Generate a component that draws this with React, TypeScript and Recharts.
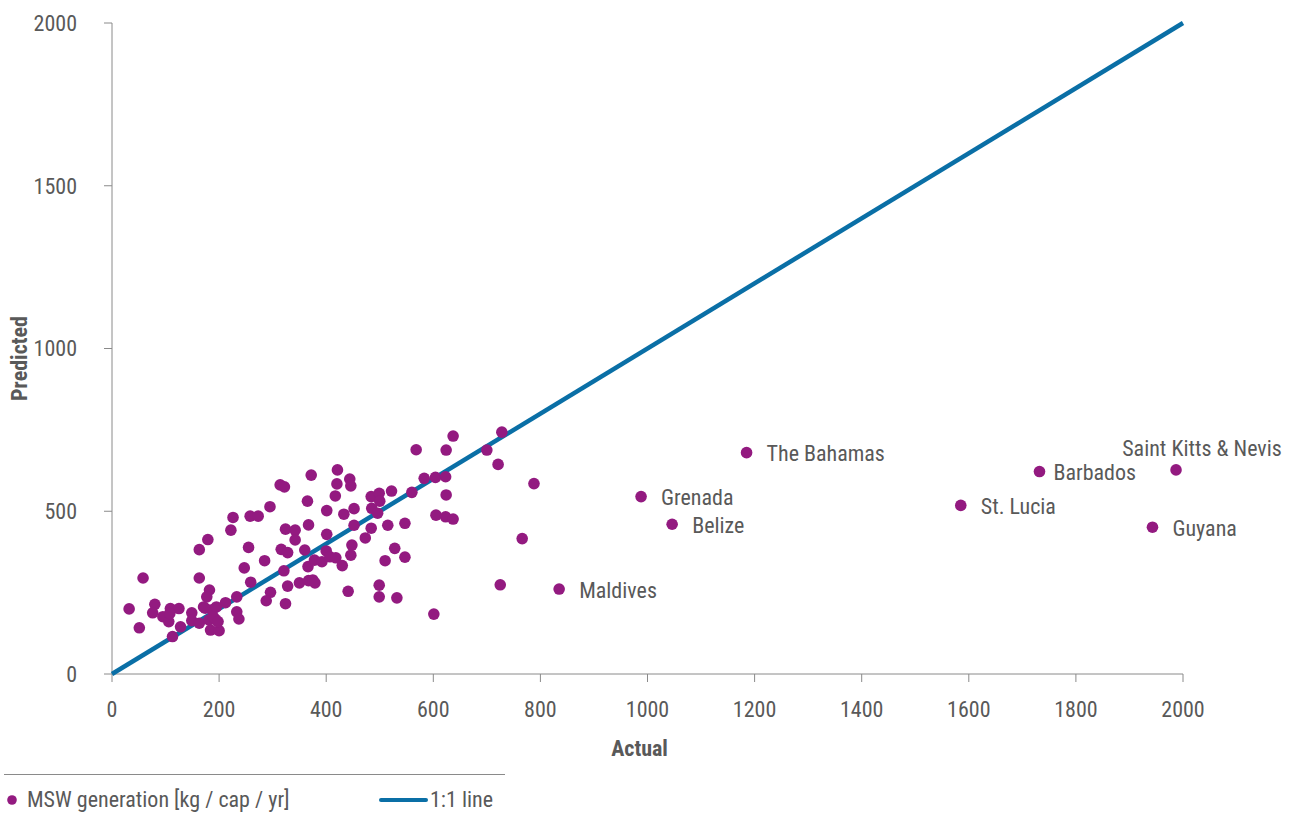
import React from 'react';
import { ScatterChart, Scatter, XAxis, YAxis, LabelList } from 'recharts';

// unlabelled countries: actual vs predicted MSW generation
const ACTUAL = [
  58, 32, 51, 80, 76, 95, 109, 125, 106, 128, 113, 149, 149, 163, 163, 163, 179, 182, 177, 174,
  187, 181, 193, 184, 200, 212, 233, 233, 237, 222, 226, 255, 258, 273, 247, 259, 285, 295, 296, 288,
  314, 322, 324, 342, 342, 316, 328, 360, 321, 328, 324, 350, 367, 365, 372, 367, 366, 171, 195, 189,
  198, 108, 421, 420, 444, 446, 417, 401, 433, 452, 452, 401, 400, 378, 392, 407, 418, 430, 448, 446,
  473, 484, 484, 499, 500, 485, 496, 515, 522, 547, 528, 510, 547, 499, 499, 532, 441, 601, 560, 568,
  583, 604, 623, 624, 637, 624, 605, 623, 637, 700, 721, 725, 375, 379, 728, 788, 766,
];
const PREDICTED = [
  295, 200, 142, 214, 188, 176, 201, 201, 161, 145, 115, 188, 164, 156, 295, 382, 413, 258, 237, 202,
  197, 166, 168, 135, 133, 219, 237, 191, 169, 442, 481, 389, 485, 485, 326, 282, 348, 514, 251, 225,
  581, 575, 445, 442, 412, 383, 373, 381, 317, 270, 216, 280, 287, 531, 611, 458, 330, 206, 206, 176,
  161, 186, 627, 584, 599, 578, 547, 502, 491, 508, 457, 429, 378, 350, 345, 360, 357, 333, 396, 365,
  418, 448, 545, 555, 531, 509, 494, 457, 562, 463, 386, 348, 359, 273, 237, 234, 254, 184, 558, 689,
  601, 604, 606, 688, 731, 550, 488, 483, 476, 688, 644, 274, 289, 280, 743, 585, 416,
];

// labelled outliers
const NAMES = ['Maldives', 'Grenada', 'Belize', 'The Bahamas', 'St. Lucia', 'Barbados', 'Saint Kitts & Nevis', 'Guyana'];
const NAMED_ACTUAL = [835, 988, 1046, 1185, 1585, 1732, 1987, 1943];
const NAMED_PREDICTED = [261, 545, 460, 680, 518, 622, 627, 451];

const X_TICKS = [0, 200, 400, 600, 800, 1000, 1200, 1400, 1600, 1800, 2000];
const Y_TICKS = [0, 500, 1000, 1500, 2000];
const ONE_TO_ONE = [0, 2000];

const PURPLE = '#931a80';
const BLUE = '#0a6fa6';
const AXIS = '#8a8a8a';
const TEXT = '#595959';
const FONT = "'Roboto Condensed', Roboto, sans-serif";
const FS = 22;

const points = [
  ...ACTUAL.map((x, i) => ({ x, y: PREDICTED[i], name: '' })),
  ...NAMES.map((name, i) => ({ x: NAMED_ACTUAL[i], y: NAMED_PREDICTED[i], name })),
];
const lineData = ONE_TO_ONE.map((v) => ({ x: v, y: v }));

const PointLabel = (props: any) => {
  const { x, y, width, height, value } = props;
  if (!value) return null;
  const cx = x + width / 2;
  const cy = y + height / 2;
  if (value === 'Saint Kitts & Nevis') {
    return (
      <text x={cx + 26} y={cy - 21} textAnchor="middle" dominantBaseline="central"
        fontSize={FS} fill={TEXT} style={{ fontFamily: FONT, fontStretch: 'condensed' }}>
        {value}
      </text>
    );
  }
  const dx = value === 'Barbados' ? 14 : 20;
  return (
    <text x={cx + dx} y={cy + 1} dominantBaseline="central"
      fontSize={FS} fill={TEXT} style={{ fontFamily: FONT, fontStretch: 'condensed' }}>
      {value}
    </text>
  );
};

const tickStyle = { fontSize: FS, fill: TEXT, fontFamily: FONT, fontStretch: 'condensed' } as any;

export default function App() {
  return (
    <div style={{ position: 'absolute', left: 0, top: 0, width: 1295, height: 813, background: '#fff', fontFamily: FONT, fontStretch: 'condensed' }}>
      <ScatterChart width={1295} height={760} margin={{ top: 23, right: 112, bottom: 0, left: 0 }}>
        <XAxis
          type="number"
          dataKey="x"
          domain={[0, 2000]}
          ticks={X_TICKS}
          height={86}
          stroke={AXIS}
          tickSize={8}
          tickMargin={19}
          tick={tickStyle}
          label={(p: any) => {
            const vb = p.viewBox;
            return (
              <text x={vb.x + vb.width / 2 - 8} y={vb.y + 74} textAnchor="middle" dominantBaseline="central"
                fontSize={FS} fontWeight="bold" fill={TEXT} style={{ fontFamily: FONT, fontStretch: 'condensed' }}>
                Actual
              </text>
            );
          }}
        />
        <YAxis
          type="number"
          dataKey="y"
          domain={[0, 2000]}
          ticks={Y_TICKS}
          width={112}
          stroke={AXIS}
          tickSize={8}
          tickMargin={27}
          tick={tickStyle}
          label={(p: any) => {
            const vb = p.viewBox;
            const cx = vb.x + 19;
            const cy = vb.y + vb.height / 2 + 10;
            return (
              <text x={cx} y={cy} transform={`rotate(-90 ${cx} ${cy})`} textAnchor="middle" dominantBaseline="central"
                fontSize={FS} fontWeight="bold" fill={TEXT} style={{ fontFamily: FONT, fontStretch: 'condensed' }}>
                Predicted
              </text>
            );
          }}
        />
        <Scatter
          name="1:1 line"
          data={lineData}
          line={{ stroke: BLUE, strokeWidth: 4.5 }}
          shape={() => <g />}
          isAnimationActive={false}
        />
        <Scatter
          name="MSW generation [kg / cap / yr]"
          data={points}
          fill={PURPLE}
          shape={(p: any) => <circle cx={p.cx} cy={p.cy} r={5.8} fill={PURPLE} />}
          isAnimationActive={false}
        >
          <LabelList dataKey="name" content={PointLabel} />
        </Scatter>
      </ScatterChart>
      <div style={{ position: 'absolute', left: 4, top: 774, width: 501, height: 1, background: AXIS }} />
      <div style={{ position: 'absolute', left: 0, top: 786, height: 28, width: 520, fontSize: FS, color: TEXT }}>
        <svg width={520} height={28} style={{ position: 'absolute', left: 0, top: 0 }}>
          <circle cx={12} cy={14} r={4.8} fill={PURPLE} />
          <line x1={381} y1={14} x2={426} y2={14} stroke={BLUE} strokeWidth={4} strokeLinecap="round" />
        </svg>
        <span style={{ position: 'absolute', left: 27, top: 0, lineHeight: '28px', whiteSpace: 'nowrap' }}>MSW generation [kg / cap / yr]</span>
        <span style={{ position: 'absolute', left: 430, top: 0, lineHeight: '28px', whiteSpace: 'nowrap' }}>1:1 line</span>
      </div>
    </div>
  );
}
